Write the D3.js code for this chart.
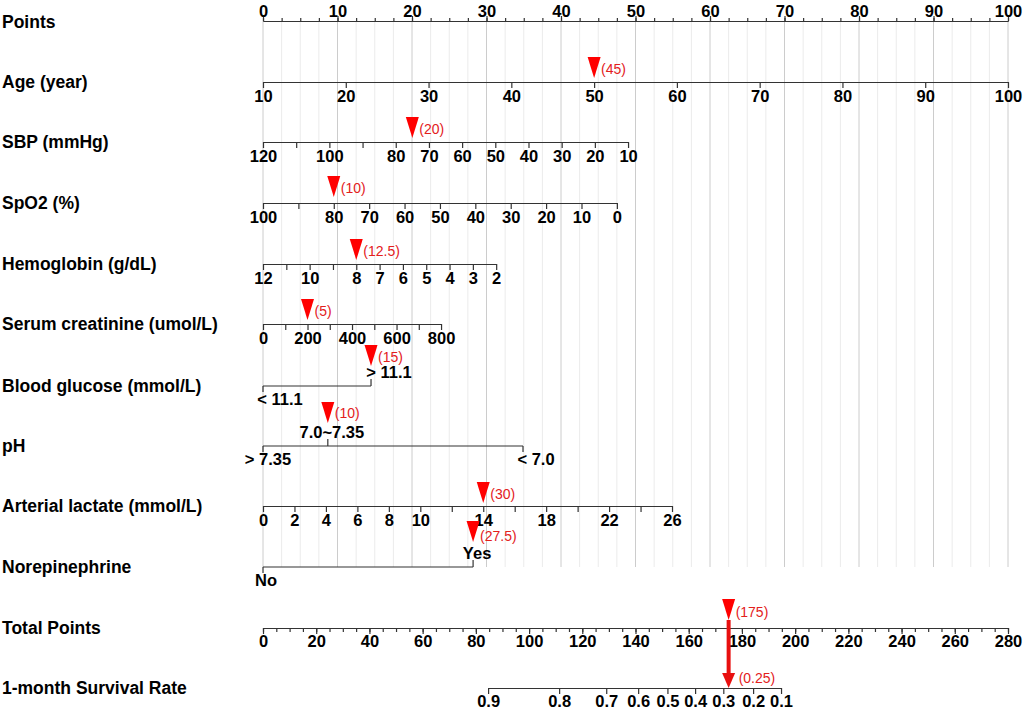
<!DOCTYPE html>
<html>
<head>
<meta charset="utf-8">
<script src="https://cdn.jsdelivr.net/npm/d3@7"></script>
<style>
  body { margin: 0; background: #fff; }
  svg { display: block; }
  text { font-family: "Liberation Sans", Arial, Helvetica, sans-serif; }
</style>
</head>
<body>
<svg id="chart" width="1025" height="710"></svg>
<script>
// ---- data ----
var pointTicks = [0, 10, 20, 30, 40, 50, 60, 70, 80, 90, 100];

var ageTicks = [10, 20, 30, 40, 50, 60, 70, 80, 90, 100];
var sbpTicks = [120, 110, 100, 90, 80, 70, 60, 50, 40, 30, 20, 10];
var sbpLabels = [120, 100, 80, 70, 60, 50, 40, 30, 20, 10];
var spo2Ticks = [100, 90, 80, 70, 60, 50, 40, 30, 20, 10, 0];
var spo2Labels = [100, 80, 70, 60, 50, 40, 30, 20, 10, 0];
var hbTicks = [12, 11, 10, 9, 8, 7, 6, 5, 4, 3, 2];
var hbLabels = [12, 10, 8, 7, 6, 5, 4, 3, 2];
var creatTicks = [0, 100, 200, 300, 400, 500, 600, 700, 800];
var creatLabels = [0, 200, 400, 600, 800];
var lactTicks = [0, 2, 4, 6, 8, 10, 12, 14, 16, 18, 20, 22, 24, 26];
var lactLabels = [0, 2, 4, 6, 8, 10, 14, 18, 22, 26];

// value at each end of an axis and the points it scores there
var ageEnds = [10, 100],  agePts = [0, 100];
var sbpEnds = [120, 10],  sbpPts = [0, 49];
var spo2Ends = [100, 0],  spo2Pts = [0, 47.5];
var hbEnds = [12, 2],     hbPts = [0, 31.3];
var creatEnds = [0, 800], creatPts = [0, 23.9];
var lactEnds = [0, 26],   lactPts = [0, 54.9];

var glucoseCats = ["< 11.1", "> 11.1"],            glucosePts = [0, 14.5];
var phCats = ["> 7.35", "7.0~7.35", "< 7.0"],       phPts = [0, 8.7, 34.9];
var noreCats = ["No", "Yes"],                       norePts = [0, 28.2];

var totalTicks = [0, 20, 40, 60, 80, 100, 120, 140, 160, 180, 200, 220, 240, 260, 280];
var survTicks = [0.9, 0.8, 0.7, 0.6, 0.5, 0.4, 0.3, 0.2, 0.1];
var survAtTotal = [84.6, 111.3, 129, 141, 152, 162.4, 173, 184.2, 194.7];

// the example patient marked in red
var markerValues = [50, 75, 80, 8, 200, "> 11.1", "7.0~7.35", 14, "Yes"];
var markerPoints = [45, 20, 10, 12.5, 5, 15, 10, 30, 27.5];
var totalScore = 175, survivalRate = 0.25;

// ---- layout ----
var svg = d3.select("#chart");
var x = d3.scaleLinear().domain([0, 100]).range([263, 1008]);
var xTotal = d3.scaleLinear().domain([0, 280]).range([263, 1008]);

var rowY = [82, 142, 203, 264, 324, 386, 446, 506, 567];
var pointsY = 21, totalY = 628, survY = 688;
var tipOffset = [4, 4, 6, 4, 4, 20, 23, 3, 25];
var labelLift = [4, 4, 4, 4, 4, 4, 5, 4, 1];
var catShift = { glucose: [17, 18], ph: [5, 4, 13], nore: [3, 4] };

var rows = [
  { name: "Age (year)", ticks: ageTicks, labels: ageTicks, ends: ageEnds, pts: agePts },
  { name: "SBP (mmHg)", ticks: sbpTicks, labels: sbpLabels, ends: sbpEnds, pts: sbpPts },
  { name: "SpO2 (%)", ticks: spo2Ticks, labels: spo2Labels, ends: spo2Ends, pts: spo2Pts },
  { name: "Hemoglobin (g/dL)", ticks: hbTicks, labels: hbLabels, ends: hbEnds, pts: hbPts },
  { name: "Serum creatinine (umol/L)", ticks: creatTicks, labels: creatLabels, ends: creatEnds, pts: creatPts },
  { name: "Blood glucose (mmol/L)", cats: glucoseCats, pts: glucosePts, shift: catShift.glucose },
  { name: "pH", cats: phCats, pts: phPts, shift: catShift.ph },
  { name: "Arterial lactate (mmol/L)", ticks: lactTicks, labels: lactLabels, ends: lactEnds, pts: lactPts },
  { name: "Norepinephrine", cats: noreCats, pts: norePts, shift: catShift.nore }
];

var axisColor = "#333";
var tickFont = "16.5px";

function styleAxis(g) {
  g.selectAll("path, line").attr("stroke", axisColor).attr("stroke-width", 1.2);
  g.selectAll("text")
    .attr("fill", "#000")
    .style("font-size", tickFont)
    .style("font-weight", "bold")
    .style("font-family", "'Liberation Sans', Arial, sans-serif");
}

// vertical grid
var grid = svg.append("g").attr("class", "grid");
grid.selectAll("line")
  .data(d3.range(0, 100.01, 2.5))
  .enter().append("line")
    .attr("x1", function(d) { return x(d); })
    .attr("x2", function(d) { return x(d); })
    .attr("y1", pointsY)
    .attr("y2", rowY[rowY.length - 1])
    .attr("stroke", function(d) { return d % 10 === 0 ? "#cccccc" : "#ebebeb"; })
    .attr("stroke-width", 1);

// left labels
var leftNames = ["Points"].concat(rows.map(function(r) { return r.name; }), ["Total Points", "1-month Survival Rate"]);
var leftY = [pointsY + 1].concat(rowY, [totalY, survY]);
svg.append("g").selectAll("text")
  .data(leftNames)
  .enter().append("text")
    .attr("x", 2)
    .attr("y", function(d, i) { return leftY[i] + 6; })
    .style("font-size", "17.5px")
    .style("font-weight", "bold")
    .attr("fill", "#000")
    .text(function(d) { return d; });

// points axis
svg.append("g")
  .attr("transform", "translate(0," + pointsY + ")")
  .call(d3.axisTop(x).tickValues(d3.range(0, 100.01, 2.5)).tickSize(3).tickSizeOuter(0).tickFormat(""))
  .call(styleAxis);
svg.append("g")
  .attr("transform", "translate(0," + pointsY + ")")
  .call(d3.axisTop(x).tickValues(pointTicks).tickSize(5).tickSizeOuter(0).tickPadding(-1))
  .call(styleAxis);

// variable axes
var markerX = [];
rows.forEach(function(r, i) {
  var y = rowY[i];
  var g = svg.append("g").attr("transform", "translate(0," + y + ")");
  if (r.cats) {
    var px = r.pts.map(function(p) { return x(p); });
    g.append("line")
      .attr("x1", px[0]).attr("x2", px[px.length - 1])
      .attr("stroke", axisColor).attr("stroke-width", 1.2);
    r.cats.forEach(function(c, j) {
      var above = j % 2 === 1;
      g.append("line")
        .attr("x1", px[j]).attr("x2", px[j])
        .attr("y1", 0).attr("y2", above ? -7 : 6)
        .attr("stroke", axisColor).attr("stroke-width", 1.2);
      g.append("text")
        .attr("x", px[j] + r.shift[j])
        .attr("y", above ? -8 : 19)
        .attr("text-anchor", "middle")
        .attr("fill", "#000")
        .style("font-size", tickFont)
        .style("font-weight", "bold")
        .text(c);
    });
    markerX.push(px[r.cats.indexOf(markerValues[i])]);
  } else {
    var s = d3.scaleLinear().domain(r.ends).range(r.pts.map(function(p) { return x(p); }));
    g.call(d3.axisBottom(s)
        .tickValues(r.ticks)
        .tickSize(6)
        .tickSizeOuter(0)
        .tickPadding(2)
        .tickFormat(function(d) { return r.labels.indexOf(d) >= 0 ? d : ""; }))
      .call(styleAxis);
    markerX.push(s(markerValues[i]));
  }
});

// total points axis
svg.append("g")
  .attr("transform", "translate(0," + totalY + ")")
  .call(d3.axisBottom(xTotal).tickValues(d3.range(0, 280.01, 5)).tickSize(4).tickSizeOuter(0).tickFormat(""))
  .call(styleAxis);
svg.append("g")
  .attr("transform", "translate(0," + totalY + ")")
  .call(d3.axisBottom(xTotal).tickValues(totalTicks).tickSize(6).tickSizeOuter(0).tickPadding(1.5))
  .call(styleAxis);

// survival axis
var xSurv = d3.scaleLinear().domain(survTicks).range(survAtTotal.map(function(p) { return xTotal(p); }));
svg.append("g")
  .attr("transform", "translate(0," + survY + ")")
  .call(d3.axisBottom(xSurv).tickValues(survTicks).tickSize(6).tickSizeOuter(0).tickPadding(1.5).tickFormat(d3.format(".1f")))
  .call(styleAxis);

// red markers
function triangle(cx, tip) {
  return "M" + (cx - 6.5) + "," + (tip - 21) + "L" + (cx + 6.5) + "," + (tip - 21) + "L" + cx + "," + tip + "Z";
}
var marks = svg.append("g").attr("class", "markers");
markerValues.forEach(function(v, i) {
  var tip = rowY[i] - tipOffset[i];
  marks.append("path").attr("d", triangle(markerX[i], tip)).attr("fill", "#ff0000");
  marks.append("text")
    .attr("x", markerX[i] + 7)
    .attr("y", tip - labelLift[i])
    .attr("fill", "#e3201c")
    .style("font-size", "14px")
    .text("(" + markerPoints[i] + ")");
});

// total points marker and arrow down to survival
var tx = xTotal(totalScore);
var tTip = totalY - 8;
marks.append("path").attr("d", triangle(tx, tTip)).attr("fill", "#ff0000");
marks.append("text")
  .attr("x", tx + 7).attr("y", tTip - 3)
  .attr("fill", "#e3201c").style("font-size", "14px")
  .text("(" + totalScore + ")");
marks.append("line")
  .attr("x1", tx).attr("x2", tx)
  .attr("y1", tTip).attr("y2", survY - 13)
  .attr("stroke", "#e81010").attr("stroke-width", 4);
marks.append("path")
  .attr("d", "M" + (tx - 6.5) + "," + (survY - 15) + "L" + (tx + 6.5) + "," + (survY - 15) + "L" + tx + "," + survY + "Z")
  .attr("fill", "#e81010");
marks.append("text")
  .attr("x", tx + 10).attr("y", survY - 5)
  .attr("fill", "#e3201c").style("font-size", "14px")
  .text("(" + survivalRate + ")");
</script>
</body>
</html>
